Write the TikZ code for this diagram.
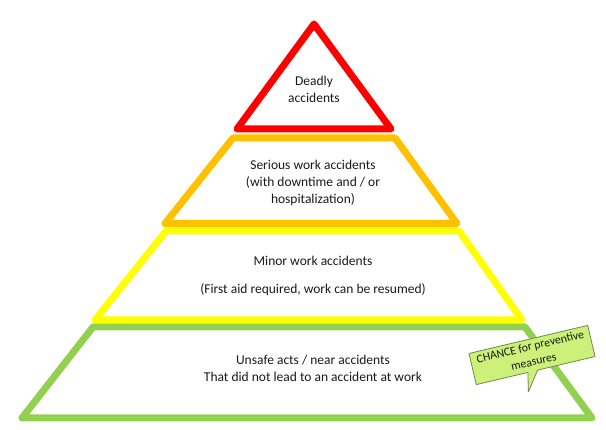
\documentclass[tikz,border=0pt]{standalone}
\usepackage{fontspec}
\setmainfont{Carlito}
\definecolor{cred}{HTML}{FF0000}
\definecolor{corange}{HTML}{FFC000}
\definecolor{cyellow}{HTML}{FFFF00}
\definecolor{cgreen}{HTML}{92D050}
\definecolor{cfill}{HTML}{CCF07A}
\definecolor{cedge}{HTML}{6E8A4A}
\definecolor{ctext}{HTML}{1A1A1A}
\tikzset{
  level/.style={line width=7pt, line join=round, line cap=round},
  lbl/.style={align=center, text=ctext, font=\fontsize{13.5}{17}\selectfont, inner sep=0pt},
  calloutshape/.style={fill=cfill, draw=cedge, line width=0.8pt, line join=round},
  callouttext/.style={align=center, text=ctext, font=\fontsize{11.8}{15.5}\selectfont, inner sep=0pt}
}
\begin{document}
\begin{tikzpicture}[x=1pt,y=-1pt]
\useasboundingbox (0,0) rectangle (606,430);
% green level
\draw[level, cgreen] (93,327) -- (525,327) -- (592,418) -- (22,418) -- cycle;
% yellow level
\draw[level, cyellow] (166,231) -- (459,231) -- (522,320) -- (95,320) -- cycle;
% orange level
\draw[level, corange] (233,138) -- (395,138) -- (457,223.5) -- (165,223.5) -- cycle;
% red level
\draw[level, cred] (314,24) -- (391,129) -- (237,129) -- cycle;
% texts
\node[lbl] (deadly) at (314,89) {Deadly\\accidents};
\node[lbl] (serious) at (313,183) {Serious work accidents\\(with downtime and / or\\hospitalization)};
\node[lbl] (minor) at (313,261) {Minor work accidents};
\node[lbl] (minordetail) at (313,290) {(First aid required, work can be resumed)};
\node[lbl] (unsafe) at (313,368.5) {Unsafe acts / near accidents\\That did not lead to an accident at work};
% callout
\begin{scope}[shift={(532,355)}, rotate=13.3]
\draw[calloutshape] (-61,-16) -- (61,-16) -- (61,16) -- (2,16) -- (-12,35) -- (-8,16) -- (-61,16) -- cycle;
\end{scope}
\node[callouttext, rotate=13.3] (chance) at (532,354) {CHANCE for preventive\\measures};
\end{tikzpicture}
\end{document}
